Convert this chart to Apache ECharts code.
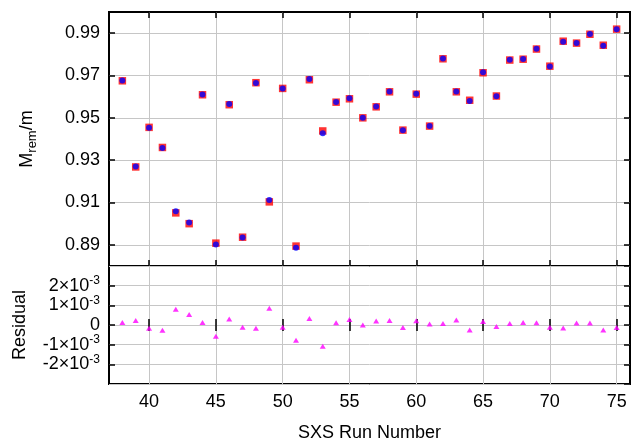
<!DOCTYPE html>
<html>
<head>
<meta charset="utf-8">
<script src="https://cdn.jsdelivr.net/npm/echarts@6/dist/echarts.min.js"></script>
<style>
  html, body { margin: 0; padding: 0; background: #fff; }
  #chart { width: 632px; height: 443px; }
</style>
</head>
<body>
<div id="chart"></div>
<script>
// SXS run numbers
const runs = [38, 39, 40, 41, 42, 43, 44, 45, 46, 47, 48, 49, 50, 51, 52, 53, 54, 55, 56,
  57, 58, 59, 60, 61, 62, 63, 64, 65, 66, 67, 68, 69, 70, 71, 72, 73, 74, 75]
// red squares
const nrValues = [0.9675, 0.9268, 0.9455, 0.9360, 0.9051, 0.9000, 0.9609, 0.8908, 0.9562, 0.8936,
  0.9666, 0.9103, 0.9639, 0.8894, 0.9680, 0.9438, 0.9574, 0.9590, 0.9500, 0.9552,
  0.9623, 0.9442, 0.9612, 0.9461, 0.9779, 0.9623, 0.9583, 0.9713, 0.9603, 0.9773,
  0.9777, 0.9825, 0.9744, 0.9862, 0.9853, 0.9895, 0.9843, 0.9919]
// blue circles
const fitValues = [0.9676, 0.9270, 0.9453, 0.9357, 0.9059, 0.9005, 0.9610, 0.8902, 0.9565, 0.8935,
  0.9664, 0.9112, 0.9638, 0.8886, 0.9683, 0.9427, 0.9575, 0.9593, 0.9500, 0.9554,
  0.9625, 0.9441, 0.9614, 0.9461, 0.9780, 0.9625, 0.9580, 0.9715, 0.9602, 0.9774,
  0.9778, 0.9826, 0.9743, 0.9860, 0.9854, 0.9896, 0.9840, 0.9918]
// magenta triangles
const residuals = [0.00013, 0.00023, -0.00017, -0.00027, 0.0008, 0.00053, 0.00013, -0.00057, 0.0003, -0.00012,
  -0.00017, 0.00085, -0.00012, -0.00078, 0.00033, -0.00108, 0.00012, 0.00028, 0, 0.0002,
  0.00023, -0.00013, 0.00022, 0.00005, 0.00008, 0.00025, -0.00025, 0.00018, -0.00007, 0.00007,
  0.00013, 0.00012, -0.00012, -0.00015, 0.0001, 0.0001, -0.00025, -0.00013]

const xTicks = [40, 45, 50, 55, 60, 65, 70, 75]
const yTicks = [0.89, 0.91, 0.93, 0.95, 0.97, 0.99]

const font = 'Liberation Sans'
const gridLine = { show: true, lineStyle: { color: '#c6c6c6', width: 1 } }
const tick = { show: true, inside: true, length: 6, lineStyle: { color: '#000', width: 1.5 } }

function xAxis (gridIndex, position, showLabel) {
  return {
    type: 'value', gridIndex: gridIndex, position: position, min: 37, max: 76,
    axisLine: { show: false },
    axisTick: Object.assign({ customValues: xTicks }, tick),
    axisLabel: { show: showLabel, customValues: xTicks, fontSize: 18, fontFamily: font, color: '#000', margin: 9 },
    splitLine: position === 'bottom' ? gridLine : { show: false }
  }
}

const option = {
  animation: false,
  grid: [
    { left: 109, right: 2, top: 12, height: 254, show: true, borderColor: '#000', borderWidth: 2 },
    { left: 109, right: 2, top: 266, height: 120, show: true, borderColor: '#000', borderWidth: 2 }
  ],
  xAxis: [
    xAxis(0, 'bottom', false),
    xAxis(0, 'top', false),
    Object.assign(xAxis(1, 'bottom', true), {
      name: 'SXS Run Number', nameLocation: 'middle', nameGap: 40,
      nameTextStyle: { fontSize: 18, fontFamily: font, color: '#000' }
    }),
    xAxis(1, 'top', false)
  ],
  yAxis: [
    {
      type: 'value', gridIndex: 0, position: 'left', min: 0.88, max: 1.0,
      axisLine: { show: false },
      axisTick: Object.assign({ customValues: yTicks }, tick),
      axisLabel: { customValues: yTicks, fontSize: 18, fontFamily: font, color: '#000', margin: 9,
        formatter: v => v.toFixed(2) },
      splitLine: gridLine,
      name: '{a|M}{b|rem}{a|/m}', nameLocation: 'middle', nameRotate: 90, nameGap: 70,
      nameTextStyle: {
        rich: {
          a: { fontSize: 18, fontFamily: font, color: '#000', lineHeight: 24 },
          b: { fontSize: 13, fontFamily: font, color: '#000', lineHeight: 13, verticalAlign: 'bottom' }
        }
      }
    },
    {
      type: 'value', gridIndex: 0, position: 'right', min: 0.88, max: 1.0,
      axisLine: { show: false },
      axisTick: Object.assign({ customValues: yTicks }, tick),
      axisLabel: { show: false },
      splitLine: { show: false }
    },
    {
      type: 'value', gridIndex: 1, position: 'left', min: -0.003, max: 0.003, interval: 0.001,
      axisLine: { show: false },
      axisTick: tick,
      axisLabel: {
        fontSize: 18, fontFamily: font, color: '#000', margin: 9,
        showMinLabel: false, showMaxLabel: false, hideOverlap: false,
        formatter: v => {
          const n = Math.round(v * 1000)
          if (Math.abs(n) >= 3) return ''
          return n === 0 ? '0' : '{a|' + n + '×10}{s|-3}'
        },
        rich: {
          a: { fontSize: 18, fontFamily: font, color: '#000', lineHeight: 22 },
          s: { fontSize: 12, fontFamily: font, color: '#000', lineHeight: 12, verticalAlign: 'top' }
        }
      },
      splitLine: gridLine,
      name: 'Residual', nameLocation: 'middle', nameRotate: 90, nameGap: 80,
      nameTextStyle: { fontSize: 18, fontFamily: font, color: '#000' }
    },
    {
      type: 'value', gridIndex: 1, position: 'right', min: -0.003, max: 0.003, interval: 0.001,
      axisLine: { show: false },
      axisTick: tick,
      axisLabel: { show: false },
      splitLine: { show: false }
    }
  ],
  series: [
    {
      type: 'scatter', xAxisIndex: 0, yAxisIndex: 0, symbol: 'rect', symbolSize: 7.5,
      itemStyle: { color: '#ff0000' },
      data: runs.map((r, i) => [r, nrValues[i]])
    },
    {
      type: 'scatter', xAxisIndex: 0, yAxisIndex: 0, symbol: 'circle', symbolSize: 6,
      itemStyle: { color: '#0000ff' },
      data: runs.map((r, i) => [r, fitValues[i]])
    },
    {
      type: 'scatter', xAxisIndex: 2, yAxisIndex: 2, symbol: 'triangle', symbolSize: [6, 5],
      itemStyle: { color: '#ff00ff' },
      data: runs.map((r, i) => [r, residuals[i]])
    }
  ]
}

const chart = echarts.init(document.getElementById('chart'))
chart.setOption(option)
</script>
</body>
</html>
